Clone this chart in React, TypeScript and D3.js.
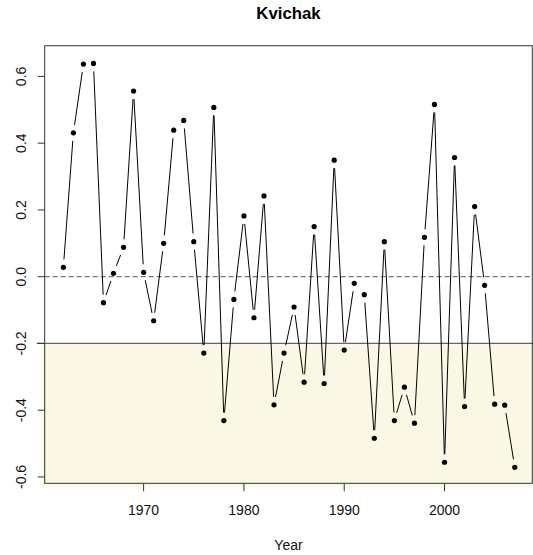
import React from "react";
import * as d3 from "d3";

// Annual index values, Kvichak
const years = [
  1962, 1963, 1964, 1965, 1966, 1967, 1968, 1969, 1970, 1971, 1972, 1973, 1974,
  1975, 1976, 1977, 1978, 1979, 1980, 1981, 1982, 1983, 1984, 1985, 1986, 1987,
  1988, 1989, 1990, 1991, 1992, 1993, 1994, 1995, 1996, 1997, 1998, 1999, 2000,
  2001, 2002, 2003, 2004, 2005, 2006, 2007,
];
const values = [
  0.028, 0.431, 0.637, 0.639, -0.078, 0.01, 0.088, 0.556, 0.013, -0.132, 0.1,
  0.439, 0.468, 0.105, -0.229, 0.507, -0.431, -0.068, 0.182, -0.123, 0.242,
  -0.384, -0.229, -0.091, -0.316, 0.15, -0.32, 0.349, -0.22, -0.02, -0.054,
  -0.484, 0.105, -0.431, -0.331, -0.439, 0.118, 0.516, -0.556, 0.357, -0.389,
  0.21, -0.026, -0.382, -0.385, -0.571,
];
const xTicks = [1970, 1980, 1990, 2000];
const yTicks = [-0.6, -0.4, -0.2, 0.0, 0.2, 0.4, 0.6];
const threshold = -0.2;
const title = "Kvichak";
const xLabel = "Year";

const W = 533;
const H = 555;
const plot = { left: 44.7, right: 532.3, top: 45.7, bottom: 483.3 };
const GAP = 8; // distance kept clear between a line and each point

export default function App() {
  const x = d3.scaleLinear().domain([1960.14, 2008.75]).range([plot.left, plot.right]);
  const y = d3.scaleLinear().domain([-0.619, 0.692]).range([plot.bottom, plot.top]);

  const pts = years.map((yr, i) => ({ px: x(yr), py: y(values[i]) }));

  // Segments between consecutive points, shortened at both ends
  const segs: { x1: number; y1: number; x2: number; y2: number }[] = [];
  for (let i = 0; i < pts.length - 1; i++) {
    const a = pts[i];
    const b = pts[i + 1];
    const dx = b.px - a.px;
    const dy = b.py - a.py;
    const L = Math.hypot(dx, dy);
    if (L <= 2 * GAP) continue;
    const ux = dx / L;
    const uy = dy / L;
    segs.push({
      x1: a.px + ux * GAP,
      y1: a.py + uy * GAP,
      x2: b.px - ux * GAP,
      y2: b.py - uy * GAP,
    });
  }

  const font = "'Liberation Sans', Arial, Helvetica, sans-serif";
  const cx = (plot.left + plot.right) / 2;

  return (
    <svg
      width={W}
      height={H}
      style={{ position: "absolute", left: 0, top: 0, background: "#fff" }}
      fontFamily={font}
    >
      <defs>
        <clipPath id="plotClip">
          <rect x={plot.left} y={plot.top} width={plot.right - plot.left} height={plot.bottom - plot.top} />
        </clipPath>
        <filter id="soft" x="-5%" y="-5%" width="110%" height="110%">
          <feGaussianBlur stdDeviation="1.5" />
        </filter>
      </defs>

      {/* shaded band below the threshold */}
      <rect
        x={plot.left - 4}
        y={y(threshold)}
        width={W - plot.left + 4}
        height={plot.bottom + 4 - y(threshold)}
        fill="#FAF8E4"
        filter="url(#soft)"
      />
      <line
        x1={plot.left - 8}
        x2={W}
        y1={y(threshold)}
        y2={y(threshold)}
        stroke="#666"
        strokeWidth={1.2}
      />

      {/* zero reference */}
      <line
        x1={plot.left}
        x2={plot.right}
        y1={y(0)}
        y2={y(0)}
        stroke="#555"
        strokeWidth={1}
        strokeDasharray="5,3"
      />

      <g clipPath="url(#plotClip)">
        {segs.map((s, i) => (
          <line key={i} x1={s.x1} y1={s.y1} x2={s.x2} y2={s.y2} stroke="#000" strokeWidth={1} />
        ))}
        {pts.map((p, i) => (
          <circle key={i} cx={p.px} cy={p.py} r={2.6} fill="#000" />
        ))}
      </g>

      {/* frame */}
      <rect
        x={plot.left}
        y={plot.top}
        width={plot.right - plot.left}
        height={plot.bottom - plot.top}
        fill="none"
        stroke="#333"
        strokeWidth={1}
      />

      {/* y axis */}
      {yTicks.map((t) => (
        <g key={t}>
          <line x1={plot.left - 7} x2={plot.left} y1={y(t)} y2={y(t)} stroke="#333" />
          <text
            transform={`translate(${25.5},${y(t)}) rotate(-90)`}
            textAnchor="middle"
            fontSize={14}
            fill="#111"
          >
            {t.toFixed(1)}
          </text>
        </g>
      ))}

      {/* x axis */}
      {xTicks.map((t) => (
        <g key={t}>
          <line x1={x(t)} x2={x(t)} y1={plot.bottom} y2={plot.bottom + 8} stroke="#333" />
          <text x={x(t)} y={515} textAnchor="middle" fontSize={14} fill="#111">
            {t}
          </text>
        </g>
      ))}

      <text x={cx} y={19} textAnchor="middle" fontSize={16.8} fontWeight="bold" fill="#000">
        {title}
      </text>
      <text x={cx} y={550} textAnchor="middle" fontSize={14} fill="#111">
        {xLabel}
      </text>
    </svg>
  );
}
